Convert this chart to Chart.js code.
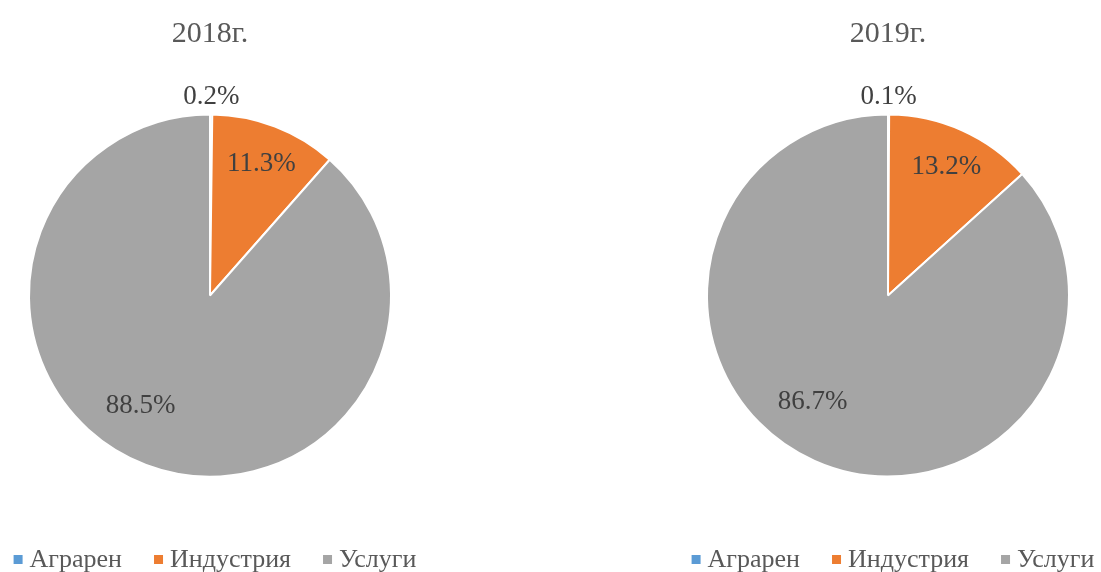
<!DOCTYPE html>
<html>
<head>
<meta charset="utf-8">
<script src="https://cdn.jsdelivr.net/npm/chart.js@4.4.0/dist/chart.umd.min.js"></script>
<style>
    html, body { margin: 0; padding: 0; background: #ffffff; }
    body { width: 1101px; height: 572px; position: relative; overflow: hidden; }
    .box { position: absolute; top: 0; width: 420px; height: 572px; }
</style>
</head>
<body>
<div class="box" style="left:0px"><canvas id="pie2018"></canvas></div>
<div class="box" style="left:678px"><canvas id="pie2019"></canvas></div>
<script>
// data
const categories = ['Аграрен', 'Индустрия', 'Услуги'];
const years = ['2018г.', '2019г.'];
const share2018 = [0.2, 11.3, 88.5];
const share2019 = [0.1, 13.2, 86.7];
const sliceColors = ['#5B9BD5', '#ED7D31', '#A5A5A5'];

const FONT = "'Liberation Serif', 'Times New Roman', serif";

// where excel put the labels (fraction of radius, extra turn in degrees)
const labelFrac = [1.11, 0.79, 0.71];
const labelTurn = [0, 0, 12];

// titles, data labels and legend drawn by hand so they sit like the original
const decorPlugin = {
    id: 'decor',
    afterDraw: function(chart) {
        const ctx = chart.ctx;
        const meta = chart.getDatasetMeta(0);
        const arcs = meta.data;
        const cx = arcs[0].x;
        const cy = arcs[0].y;
        const r = arcs[0].outerRadius;
        const values = chart.data.datasets[0].data;

        ctx.save();

        // title
        ctx.fillStyle = '#595959';
        ctx.font = '30px ' + FONT;
        ctx.textAlign = 'center';
        ctx.textBaseline = 'alphabetic';
        ctx.fillText(chart.options.plugins.decor.title, cx, 42);

        // data labels
        ctx.fillStyle = '#404040';
        ctx.font = '27px ' + FONT;
        arcs.forEach(function(arc, i) {
            const mid = (arc.startAngle + arc.endAngle) / 2 + labelTurn[i] * Math.PI / 180;
            const lx = cx + Math.cos(mid) * r * labelFrac[i];
            const ly = cy + Math.sin(mid) * r * labelFrac[i];
            ctx.fillText(values[i].toFixed(1) + '%', lx, ly + 9);
        });

        // legend
        ctx.font = '26px ' + FONT;
        ctx.textAlign = 'left';
        const box = 9, gapText = 7, gapItem = 32;
        const widths = chart.data.labels.map(function(t) { return ctx.measureText(t).width; });
        let total = 0;
        widths.forEach(function(w) { total += box + gapText + w; });
        total += gapItem * (widths.length - 1);
        let x = cx + 5 - total / 2;
        chart.data.labels.forEach(function(t, i) {
            ctx.fillStyle = sliceColors[i];
            ctx.fillRect(x, 555, box, box);
            x += box + gapText;
            ctx.fillStyle = '#595959';
            ctx.fillText(t, x, 567);
            x += widths[i] + gapItem;
        });

        ctx.restore();
    }
};

function makePie(canvasId, title, values) {
    const ctx = document.getElementById(canvasId).getContext('2d');
    return new Chart(ctx, {
        type: 'pie',
        data: {
            labels: categories,
            datasets: [{
                data: values,
                backgroundColor: sliceColors,
                borderColor: '#ffffff',
                borderWidth: 2,
                hoverOffset: 0
            }]
        },
        options: {
            responsive: true,
            maintainAspectRatio: false,
            animation: false,
            radius: 181,
            layout: { padding: { top: 60, bottom: 41, left: 0, right: 0 } },
            events: [],
            plugins: {
                legend: { display: false },
                title: { display: false },
                tooltip: { enabled: false },
                decor: { title: title }
            }
        },
        plugins: [decorPlugin]
    });
}

makePie('pie2018', years[0], share2018);
makePie('pie2019', years[1], share2019);
</script>
</body>
</html>
